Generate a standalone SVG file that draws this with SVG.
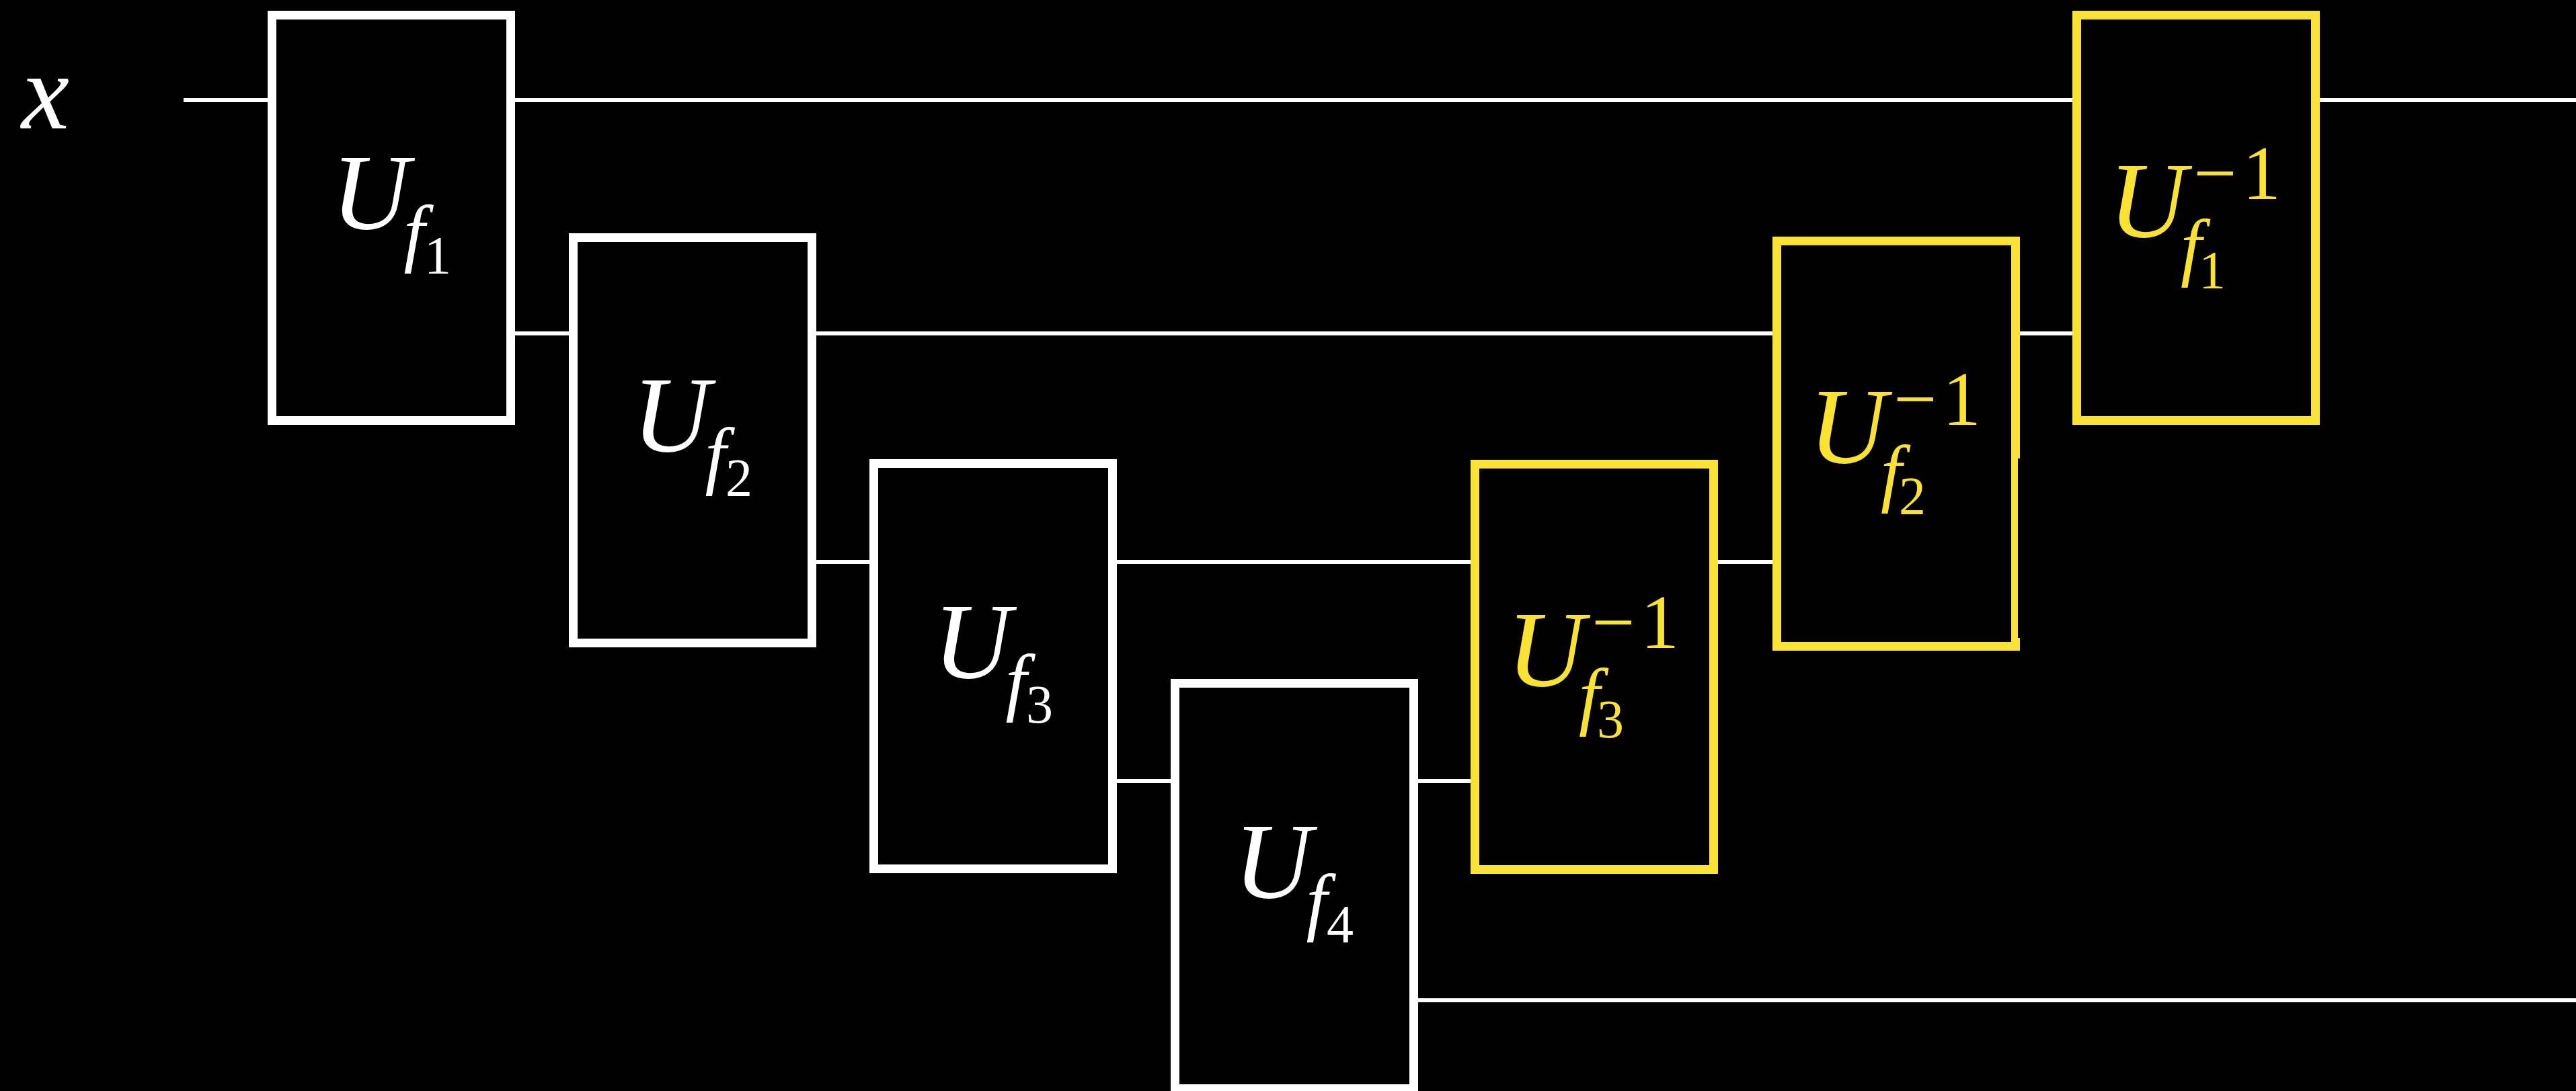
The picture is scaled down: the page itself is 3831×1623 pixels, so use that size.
<svg xmlns="http://www.w3.org/2000/svg" width="3831" height="1623" viewBox="0 0 3831 1623">
<style>
.wire{stroke:#fff;stroke-width:6;fill:none}
.box{fill:#000;stroke:#fff;stroke-width:13}
.inv{fill:#000;stroke:#FAE232;stroke-width:13}
text{font-family:"Liberation Serif","Times New Roman",serif}
.it{font-style:italic}
.up{font-style:normal}
.big{font-size:160px}
.mid{font-size:113px}
.sup{font-size:114px}
.sm{font-size:80px}
.w{fill:#fff}
.y{fill:#FAE232}
</style>
<rect x="0" y="0" width="3831" height="1623" fill="#000"/>
<text id="input-label" class="it big w" x="32" y="191">x</text>
<g id="wires">
<line class="wire" x1="273" y1="149" x2="3831" y2="149"/>
<line class="wire" x1="582" y1="496" x2="3266" y2="496"/>
<line class="wire" x1="1030" y1="836" x2="2820" y2="836"/>
<line class="wire" x1="1477" y1="1162" x2="2371" y2="1162"/>
<line class="wire" x1="1925" y1="1488" x2="3831" y2="1488"/>
</g>
<g id="Uf1">
<rect class="box" x="404.5" y="22.5" width="355" height="603"/>
<text class="w"><tspan class="it big" x="493" y="340">U</tspan><tspan class="it mid" x="600.6" y="383">f</tspan><tspan class="up sm" x="631" y="407">1</tspan></text>
</g>
<g id="Uf2">
<rect class="box" x="852.5" y="353.5" width="355" height="603"/>
<text class="w"><tspan class="it big" x="940.5" y="671">U</tspan><tspan class="it mid" x="1048.6" y="714">f</tspan><tspan class="up sm" x="1079" y="738">2</tspan></text>
</g>
<g id="Uf3">
<rect class="box" x="1299.5" y="689.5" width="355" height="603"/>
<text class="w"><tspan class="it big" x="1388" y="1008">U</tspan><tspan class="it mid" x="1495.6" y="1051">f</tspan><tspan class="up sm" x="1526" y="1075">3</tspan></text>
</g>
<g id="Uf4">
<rect class="box" x="1747.5" y="1016.5" width="355" height="603"/>
<text class="w"><tspan class="it big" x="1835" y="1335">U</tspan><tspan class="it mid" x="1942.6" y="1378">f</tspan><tspan class="up sm" x="1973" y="1402">4</tspan></text>
</g>
<g id="Uf3inv">
<rect class="inv" x="2193.5" y="690.5" width="355" height="603"/>
<text class="y"><tspan class="it big" x="2241" y="1020">U</tspan><tspan class="up sup" x="2367" y="964">−</tspan><tspan class="up sup" x="2440" y="964">1</tspan><tspan class="it mid" x="2348" y="1072">f</tspan><tspan class="up sm" x="2375" y="1097">3</tspan></text>
</g>
<g id="Uf2inv">
<rect class="inv" x="2642.5" y="358.5" width="355" height="603"/>
<rect x="3001" y="682" width="3" height="267" fill="#000"/>
<text class="y"><tspan class="it big" x="2690" y="688">U</tspan><tspan class="up sup" x="2816" y="632">−</tspan><tspan class="up sup" x="2889" y="632">1</tspan><tspan class="it mid" x="2797" y="740">f</tspan><tspan class="up sm" x="2824" y="765">2</tspan></text>
</g>
<g id="Uf1inv">
<rect class="inv" x="3088.5" y="22.5" width="355" height="603"/>
<text class="y"><tspan class="it big" x="3136" y="352">U</tspan><tspan class="up sup" x="3262" y="296">−</tspan><tspan class="up sup" x="3335" y="296">1</tspan><tspan class="it mid" x="3243" y="404">f</tspan><tspan class="up sm" x="3270" y="429">1</tspan></text>
</g>
</svg>
